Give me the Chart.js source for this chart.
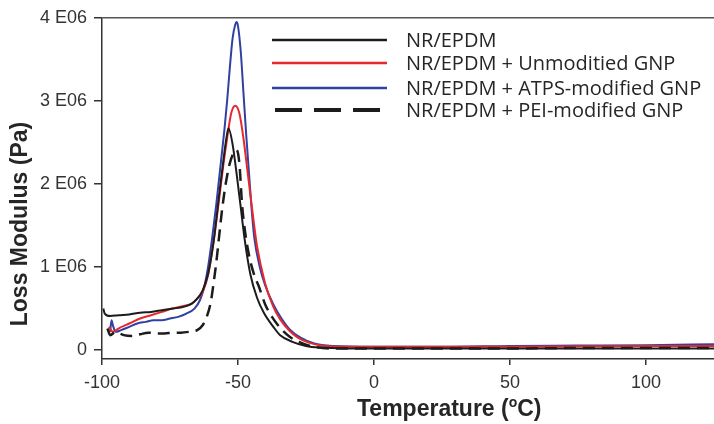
<!DOCTYPE html>
<html>
<head>
<meta charset="utf-8">
<script src="https://cdn.jsdelivr.net/npm/chart.js@4.4.1/dist/chart.umd.min.js"></script>
<style>
    html, body { margin: 0; padding: 0; background: #fff; }
    #lossChart { display: block; }
</style>
</head>
<body>
<canvas id="lossChart" width="714" height="424"></canvas>
<script>
// temperature in degC, loss modulus in units of 1E06 Pa
const seriesLabels = [
    'NR/EPDM',
    'NR/EPDM + Unmoditied GNP',
    'NR/EPDM + ATPS-modified GNP',
    'NR/EPDM + PEI-modified GNP'
];
const xTicks = [-100, -50, 0, 50, 100];
const yTicks = [0, 1, 2, 3, 4];

const tempNeat = [-99.5, -99, -97, -94, -90, -86, -82, -78, -74, -70, -67, -65, -63, -61, -59, -57, -55.5, -54.5, -53.5, -52, -50.5, -49, -47.5, -45.5, -43, -40.5, -37, -34.5, -30, -25, -20, -10, 0, 25, 50, 75, 100, 125];
const modNeat = [0.50, 0.44, 0.41, 0.42, 0.43, 0.45, 0.46, 0.48, 0.50, 0.52, 0.56, 0.62, 0.72, 0.92, 1.30, 1.85, 2.25, 2.50, 2.67, 2.48, 2.12, 1.72, 1.32, 0.92, 0.63, 0.45, 0.28, 0.18, 0.10, 0.05, 0.03, 0.02, 0.02, 0.02, 0.02, 0.02, 0.02, 0.02];

const tempUnmod = [-97.5, -96, -94, -90, -86, -82, -78, -74, -70, -67, -65, -63, -61, -59, -57, -55.5, -54, -52.5, -51, -49.5, -48, -46.5, -45, -43, -40, -37, -34.5, -31, -28, -24, -18, -10, 0, 25, 50, 75, 100, 125];
const modUnmod = [0.28, 0.22, 0.26, 0.32, 0.38, 0.42, 0.46, 0.50, 0.53, 0.56, 0.62, 0.70, 0.90, 1.30, 1.80, 2.20, 2.55, 2.85, 2.94, 2.85, 2.55, 2.15, 1.75, 1.25, 0.80, 0.52, 0.37, 0.23, 0.15, 0.09, 0.05, 0.04, 0.04, 0.04, 0.04, 0.045, 0.05, 0.05];

const tempAtps = [-97, -96.5, -96, -95, -93, -90, -87, -84, -81, -78, -75, -72, -69, -66, -64, -62.5, -61, -59.5, -58, -56.5, -55, -54, -53, -52, -51, -50.5, -50, -49, -48, -47, -46, -45, -44, -42, -40, -37, -34, -31, -27, -22, -15, 0, 25, 50, 75, 100, 125];
const modAtps = [0.22, 0.36, 0.30, 0.22, 0.24, 0.28, 0.32, 0.34, 0.36, 0.36, 0.38, 0.40, 0.44, 0.50, 0.60, 0.75, 1.00, 1.35, 1.75, 2.20, 2.65, 3.00, 3.40, 3.75, 3.92, 3.95, 3.90, 3.60, 3.10, 2.60, 2.15, 1.70, 1.35, 1.00, 0.78, 0.55, 0.38, 0.25, 0.15, 0.08, 0.05, 0.04, 0.04, 0.05, 0.055, 0.06, 0.07];

const tempPei = [-98, -97, -95, -92, -89, -86, -83, -80, -77, -74, -71, -68, -65, -63, -61.5, -60, -59, -58, -57, -56, -55, -54, -53, -52, -51, -50.5, -49.5, -48.5, -47.5, -46, -44, -42.5, -40, -37.5, -34, -31, -27, -22, -15, 0, 25, 50, 75, 100, 125];
const modPei = [0.26, 0.18, 0.22, 0.18, 0.17, 0.19, 0.21, 0.20, 0.20, 0.21, 0.21, 0.22, 0.24, 0.30, 0.40, 0.58, 0.80, 1.05, 1.35, 1.65, 1.90, 2.10, 2.25, 2.35, 2.40, 2.41, 2.25, 1.75, 1.45, 1.15, 0.90, 0.78, 0.55, 0.40, 0.25, 0.16, 0.09, 0.04, 0.02, 0.02, 0.02, 0.02, 0.025, 0.025, 0.025];

const lineColors = ['#1c1c1c', '#e52a2e', '#3140a3', '#1c1c1c'];
const lineDashes = [[], [], [], [12, 7]];

function toPoints(temps, mods) {
    return temps.map((t, i) => ({ x: t, y: mods[i] }));
}

const seriesData = [
    toPoints(tempNeat, modNeat),
    toPoints(tempUnmod, modUnmod),
    toPoints(tempAtps, modAtps),
    toPoints(tempPei, modPei)
];
const drawOrder = [1, 2, 3, 0];

const titlesAndLegend = {
    id: 'titlesAndLegend',
    afterDraw(chart) {
        const ctx = chart.ctx;
        ctx.save();
        ctx.fillStyle = '#262626';

        // y axis title
        ctx.font = 'bold 23px "Liberation Sans", Arial, sans-serif';
        ctx.textAlign = 'center';
        ctx.textBaseline = 'middle';
        ctx.translate(21, 224);
        ctx.rotate(-Math.PI / 2);
        ctx.fillText('Loss Modulus (Pa)', 0, 0);
        ctx.setTransform(1, 0, 0, 1, 0, 0);

        // x axis title with superscript o
        ctx.textAlign = 'left';
        ctx.textBaseline = 'alphabetic';
        let x = 357;
        const y = 416;
        ctx.font = 'bold 23px "Liberation Sans", Arial, sans-serif';
        ctx.fillText('Temperature (', x, y);
        x += ctx.measureText('Temperature (').width;
        ctx.font = 'bold 14px "Liberation Sans", Arial, sans-serif';
        ctx.fillText('o', x, y - 9);
        x += ctx.measureText('o').width;
        ctx.font = 'bold 23px "Liberation Sans", Arial, sans-serif';
        ctx.fillText('C)', x, y);

        // legend
        const rows = [40, 63, 88, 110];
        ctx.font = '20px "Open Sans", sans-serif';
        ctx.textBaseline = 'middle';
        seriesLabels.forEach((label, i) => {
            ctx.beginPath();
            ctx.strokeStyle = lineColors[i];
            ctx.lineWidth = i === 3 ? 4 : 2.5;
            ctx.setLineDash(i === 3 ? [27, 12] : []);
            ctx.moveTo(i === 3 ? 275 : 272, rows[i]);
            ctx.lineTo(387, rows[i]);
            ctx.stroke();
            ctx.setLineDash([]);
            ctx.fillStyle = '#262626';
            ctx.fillText(label, 406, rows[i] + 1);
        });
        ctx.restore();
    }
};

const tickFont = { family: '"Liberation Sans", Arial, sans-serif', size: 18 };

new Chart(document.getElementById('lossChart'), {
    type: 'line',
    data: {
        datasets: seriesData.map((pts, i) => ({
            label: seriesLabels[i],
            data: pts,
            borderColor: lineColors[i],
            borderWidth: i === 3 ? 2.5 : 2,
            borderDash: lineDashes[i],
            pointRadius: 0,
            cubicInterpolationMode: 'monotone',
            fill: false,
            order: drawOrder[i]
        }))
    },
    options: {
        responsive: false,
        animation: false,
        devicePixelRatio: 1,
        layout: { padding: { top: 15, right: 0, left: 0, bottom: 0 } },
        plugins: {
            legend: { display: false },
            tooltip: { enabled: false }
        },
        scales: {
            x: {
                type: 'linear',
                min: -100,
                max: 125,
                afterBuildTicks: (scale) => { scale.ticks = xTicks.map(v => ({ value: v })); },
                afterFit: (scale) => { scale.height = 65; },
                border: { color: '#333', width: 1.5 },
                grid: { drawOnChartArea: false, tickLength: 6, color: '#333', lineWidth: 1.5 },
                ticks: { color: '#333', padding: 7, maxRotation: 0, font: tickFont }
            },
            y: {
                min: -0.107,
                max: 4,
                afterBuildTicks: (scale) => { scale.ticks = yTicks.map(v => ({ value: v })); },
                afterFit: (scale) => { scale.width = 102; },
                border: { color: '#333', width: 1.5 },
                grid: {
                    tickLength: 8,
                    lineWidth: 1.5,
                    color: (c) => (c.tick && c.tick.value === 4 ? '#555' : 'rgba(0,0,0,0)'),
                    tickColor: '#333'
                },
                ticks: {
                    color: '#333',
                    padding: 7,
                    font: tickFont,
                    callback: (v) => (v === 0 ? '0' : v + ' E06')
                }
            }
        }
    },
    plugins: [titlesAndLegend]
});
</script>
</body>
</html>
